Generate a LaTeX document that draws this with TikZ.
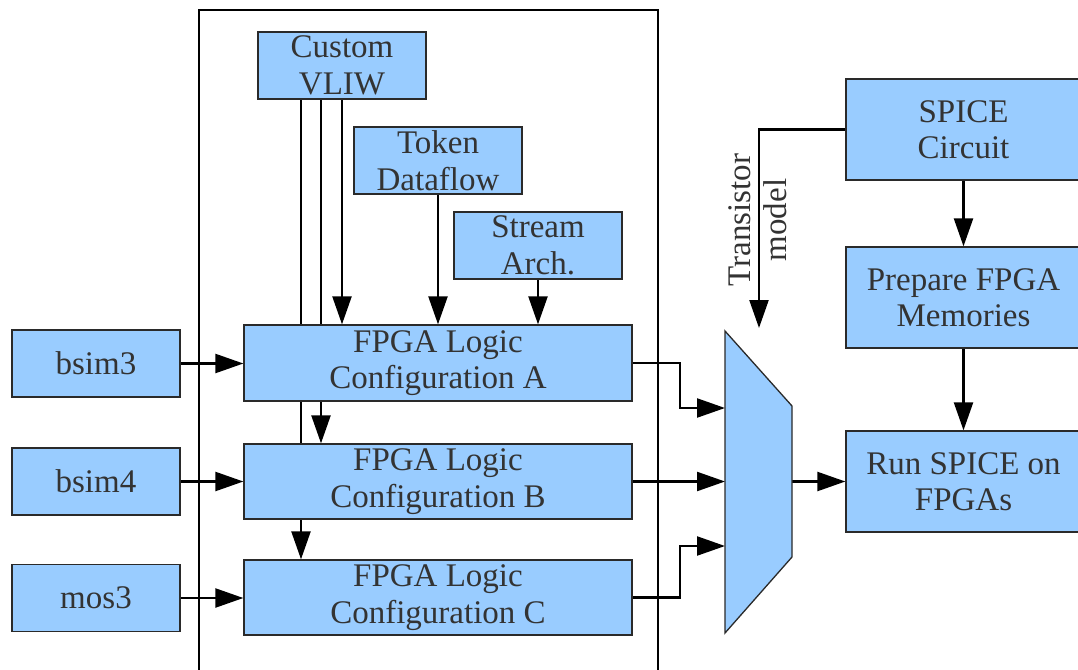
\documentclass[tikz,border=0pt]{standalone}
\usepackage{fontspec}
\setmainfont{Liberation Serif}
\usetikzlibrary{arrows.meta}
\pgfdeclarelayer{wires}
\pgfsetlayers{wires,main}
\definecolor{boxfill}{HTML}{99CCFF}
\definecolor{boxedge}{HTML}{2A2A2A}
\definecolor{ink}{HTML}{333333}
\tikzset{
  block/.style={draw=boxedge, line width=1.3pt, fill=boxfill, text=ink,
    align=center, inner sep=0pt, font=\fontsize{33}{36.5}\selectfont},
  arr/.style={line width=2.3pt, -{Triangle[length=28pt,width=19pt]}},
}
\begin{document}
\begin{tikzpicture}[x=1pt,y=-1pt]
\useasboundingbox (0,0) rectangle (1078,669);

% enclosing frame of the logic configurations
\draw[line width=2pt] (199,10) rectangle (658,690);

% architecture sources
\node[block, minimum width=168pt, minimum height=67pt] (vliw) at (342,65.5) {Custom\\VLIW};
\node[block, minimum width=168pt, minimum height=67pt] (token) at (438,160.5) {Token\\Dataflow};
\node[block, minimum width=168pt, minimum height=67pt] (stream) at (538,245.5) {Stream\\Arch.};

% logic configurations
\node[block, minimum width=388pt, minimum height=76pt] (cfgA) at (438,363) {FPGA Logic\\Configuration A};
\node[block, minimum width=388pt, minimum height=75pt] (cfgB) at (438,481.5) {FPGA Logic\\Configuration B};
\node[block, minimum width=388pt, minimum height=75pt] (cfgC) at (438,597.5) {FPGA Logic\\Configuration C};

% device models
\node[block, minimum width=168pt, minimum height=67pt] (bsim3) at (96,363.5) {bsim3};
\node[block, minimum width=168pt, minimum height=67pt] (bsim4) at (96,481.5) {bsim4};
\node[block, minimum width=168pt, minimum height=67pt] (mos3) at (96,598) {mos3};

% SPICE flow
\node[block, minimum width=235pt, minimum height=101pt] (spice) at (963.5,129.5) {SPICE\\Circuit};
\node[block, minimum width=235pt, minimum height=101pt] (prep) at (963.5,297.5) {Prepare FPGA\\Memories};
\node[block, minimum width=235pt, minimum height=101pt] (run) at (963.5,481.5) {Run SPICE on\\FPGAs};

% multiplexer
\draw[draw=boxedge, line width=1.3pt, fill=boxfill]
  (725,331) -- (792,406) -- (792,557) -- (725,633) -- cycle;
\coordinate (muxA) at (725,408);
\coordinate (muxB) at (725,481.5);
\coordinate (muxC) at (725,546);
\coordinate (muxOut) at (792,481.5);
\coordinate (modelTip) at (759,328);

\node[rotate=90, align=center, text=ink, inner sep=0pt,
  font=\fontsize{33}{36}\selectfont] (tmodel) at (758,220) {Transistor\\model};

\begin{pgfonlayer}{wires}
  \draw[arr] ([xshift=-41pt]vliw.south) -- ([xshift=-41pt]vliw.south |- cfgC.north);
  \draw[arr] ([xshift=-21pt]vliw.south) -- ([xshift=-21pt]vliw.south |- cfgB.north);
  \draw[arr] (vliw.south) -- (vliw.south |- cfgA.north);
  \draw[arr] (token.south) -- (token.south |- cfgA.north);
  \draw[arr] (stream.south) -- (stream.south |- cfgA.north);

  \draw[arr] (bsim3.east) -- (bsim3.east -| cfgA.west);
  \draw[arr] (bsim4.east) -- (bsim4.east -| cfgB.west);
  \draw[arr] (mos3.east) -- (mos3.east -| cfgC.west);

  \draw[arr] (cfgA.east) -- ++(47,0) |- (muxA);
  \draw[arr] (cfgB.east) -- (muxB);
  \draw[arr] (cfgC.east) -- ++(47,0) |- (muxC);
  \draw[arr] (muxOut) -- (run.west);

  \draw[arr] (spice.south) -- (prep.north);
  \draw[arr] (prep.south) -- (run.north);
  \draw[arr] (spice.west) -| (modelTip);
\end{pgfonlayer}
\end{tikzpicture}
\end{document}
